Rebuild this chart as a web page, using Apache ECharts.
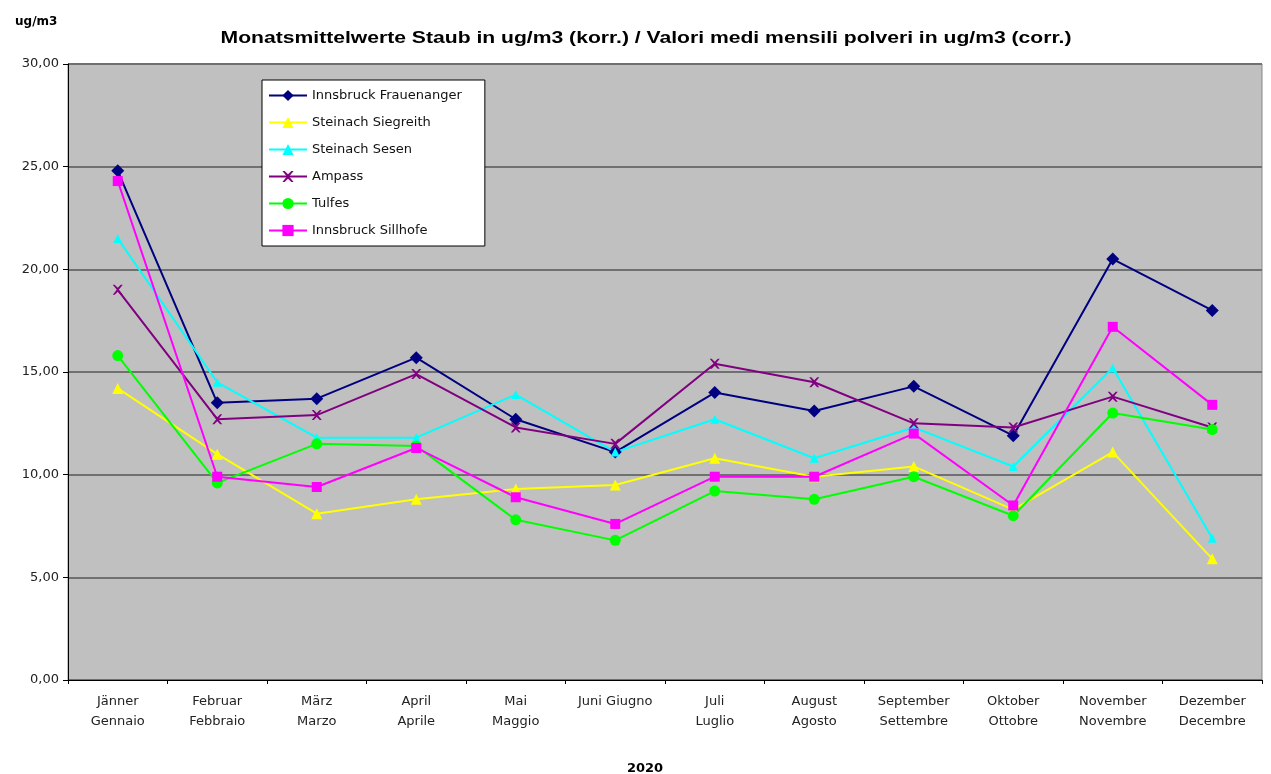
<!DOCTYPE html>
<html>
<head>
<meta charset="utf-8">
<script src="https://cdn.jsdelivr.net/npm/echarts@6/dist/echarts.min.js"></script>
<style>html,body{margin:0;padding:0;background:#fff}#c{width:1271px;height:774px}</style>
</head>
<body>
<div id="c"></div>
<script>
var categories = ['Jänner\nGennaio','Februar\nFebbraio','März\nMarzo','April\nAprile','Mai\nMaggio','Juni Giugno','Juli\nLuglio','August\nAgosto','September\nSettembre','Oktober\nOttobre','November\nNovembre','Dezember\nDecembre'];
var frauenanger = [24.8, 13.5, 13.7, 15.7, 12.7, 11.1, 14.0, 13.1, 14.3, 11.9, 20.5, 18.0];
var siegreith   = [14.2, 11.0, 8.1, 8.8, 9.3, 9.5, 10.8, 9.9, 10.4, 8.3, 11.1, 5.9];
var sesen       = [21.5, 14.5, 11.8, 11.8, 13.9, 11.1, 12.7, 10.8, 12.3, 10.4, 15.2, 6.9];
var ampass      = [19.0, 12.7, 12.9, 14.9, 12.3, 11.5, 15.4, 14.5, 12.5, 12.3, 13.8, 12.3];
var tulfes      = [15.8, 9.6, 11.5, 11.4, 7.8, 6.8, 9.2, 8.8, 9.9, 8.0, 13.0, 12.2];
var silhofe     = [24.3, 9.9, 9.4, 11.3, 8.9, 7.6, 9.9, 9.9, 12.0, 8.5, 17.2, 13.4];
var seriesNames = ['Innsbruck Frauenanger','Steinach Siegreith','Steinach Sesen','Ampass','Tulfes','Innsbruck Sillhofe'];
var yTicks = [0, 5, 10, 15, 20, 25, 30];
var titleText = 'Monatsmittelwerte Staub in ug/m3 (korr.) / Valori medi mensili polveri in ug/m3 (corr.)';

var FONT = 'DejaVu Sans, Liberation Sans, sans-serif';
var xPath = 'path://M0,0 L2,0 L5,3 L8,0 L10,0 L6,5 L10,10 L8,10 L5,7 L2,10 L0,10 L4,5 Z';
function mk(name, data, color, symbol, size, width) {
  return {
    name: name, type: 'line', data: data,
    symbol: symbol, symbolSize: size, showSymbol: true,
    lineStyle: {color: color, width: width},
    itemStyle: {color: color},
    emphasis: {disabled: true},
    animation: false
  };
}
var chart = echarts.init(document.getElementById('c'));
chart.setOption({
  animation: false,
  backgroundColor: '#ffffff',
  textStyle: {fontFamily: FONT},
  title: [
    {text: 'ug/m3', left: 10, top: 11, textStyle: {fontSize: 12, fontWeight: 'bold', color: '#000', fontFamily: FONT}},
    {text: '2020', left: 640, top: 757, textAlign: 'center', textStyle: {fontSize: 13, fontWeight: 'bold', color: '#000', fontFamily: FONT}}
  ],
  graphic: [
    {type: 'text', x: 646, y: 39, scaleX: 1.32, silent: true,
     style: {text: titleText, fill: '#000', font: 'bold 16px Liberation Sans, Arial, sans-serif', textAlign: 'center', textVerticalAlign: 'middle'}}
  ],
  grid: {left: 68, right: 9, top: 64, bottom: 94, show: true, backgroundColor: '#c0c0c0', borderColor: '#888', borderWidth: 1},
  legend: {
    orient: 'vertical', left: 262, top: 80,
    data: seriesNames,
    backgroundColor: '#ffffff', borderColor: '#000', borderWidth: 1,
    padding: [9, 23, 9, 6], itemGap: 14, itemWidth: 38, itemHeight: 14,
    textStyle: {fontSize: 13, color: '#111', fontFamily: FONT}
  },
  xAxis: {
    type: 'category', data: categories, boundaryGap: true,
    axisLine: {lineStyle: {color: '#000', width: 1}},
    axisTick: {show: true, lineStyle: {color: '#000'}, length: 4},
    axisLabel: {fontSize: 13, color: '#222', margin: 12, lineHeight: 20, interval: 0, fontFamily: FONT}
  },
  yAxis: {
    type: 'value', min: yTicks[0], max: yTicks[yTicks.length-1], interval: 5,
    axisLine: {show: true, lineStyle: {color: '#000', width: 1}},
    axisTick: {show: true, lineStyle: {color: '#000'}, length: 5},
    splitLine: {lineStyle: {color: '#707070', width: 2}},
    axisLabel: {fontSize: 13, color: '#222', margin: 9, formatter: function(v){return v.toFixed(2).replace('.', ',');}, fontFamily: FONT}
  },
  series: [
    mk(seriesNames[0], frauenanger, '#000080', 'diamond', 13, 2),
    mk(seriesNames[1], siegreith, '#ffff00', 'triangle', 11, 2),
    mk(seriesNames[2], sesen, '#00ffff', 'triangle', 9, 2),
    mk(seriesNames[3], ampass, '#800080', xPath, 10, 2),
    mk(seriesNames[4], tulfes, '#00ff00', 'circle', 11, 2),
    mk(seriesNames[5], silhofe, '#ff00ff', 'rect', 10, 2)
  ]
});
</script>
</body>
</html>
